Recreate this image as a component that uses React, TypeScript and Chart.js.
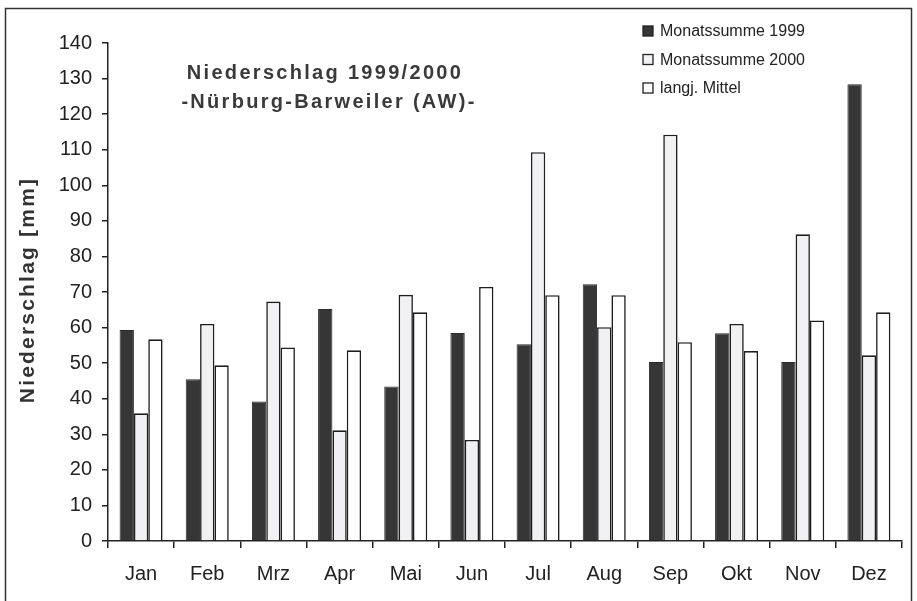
import React, { useEffect, useRef } from "react";
import { Chart, registerables } from "chart.js";

Chart.register(...registerables);

const months = ["Jan", "Feb", "Mrz", "Apr", "Mai", "Jun", "Jul", "Aug", "Sep", "Okt", "Nov", "Dez"];
const sum1999 = [59.3, 45.5, 39.2, 65.2, 43.4, 58.5, 55.3, 72.2, 50.3, 58.4, 50.3, 128.4];
const sum2000 = [35.9, 61, 67.3, 31.1, 69.2, 28.4, 109.3, 60.1, 114.2, 61, 86.2, 52.2];
const meanLong = [56.7, 49.4, 54.4, 53.6, 64.3, 71.4, 69.1, 69.1, 55.9, 53.4, 62, 64.3];
const seriesNames = ["Monatssumme 1999", "Monatssumme 2000", "langj. Mittel"];
const titleLines = ["Niederschlag 1999/2000", "-Nürburg-Barweiler (AW)-"];
const yTitle = "Niederschlag [mm]";

const FONT = "Arial, 'Liberation Sans', Helvetica, sans-serif";
const INK = "#222";

const decorPlugin = {
  id: "decor",
  afterDraw(chart: any) {
    const ctx = chart.ctx as CanvasRenderingContext2D;
    ctx.save();
    // frame
    ctx.strokeStyle = "#333";
    ctx.lineWidth = 1.5;
    ctx.strokeRect(5.5, 8.5, 906, 600);

    // title
    ctx.fillStyle = "#3a3a3a";
    ctx.font = `bold 20px ${FONT}`;
    (ctx as any).letterSpacing = "2.3px";
    ctx.textAlign = "center";
    ctx.textBaseline = "middle";
    ctx.fillText(titleLines[0], 325, 73);
    ctx.fillText(titleLines[1], 329, 102);

    // y axis title
    ctx.save();
    ctx.translate(28, 290);
    ctx.rotate(-Math.PI / 2);
    ctx.fillStyle = "#333";
    ctx.font = `bold 21px ${FONT}`;
    (ctx as any).letterSpacing = "2.2px";
    ctx.fillText(yTitle, 0, 0);
    ctx.restore();

    // legend
    (ctx as any).letterSpacing = "0px";
    ctx.textAlign = "left";
    ctx.font = `16px ${FONT}`;
    const ds = chart.data.datasets;
    ds.forEach((d: any, i: number) => {
      const y = 31 + i * 28.5;
      ctx.fillStyle = d.backgroundColor;
      ctx.fillRect(643, y - 5, 10, 10);
      ctx.strokeStyle = "#222";
      ctx.lineWidth = 1.3;
      ctx.strokeRect(643, y - 5, 10, 10);
      ctx.fillStyle = INK;
      ctx.fillText(d.label, 660, y + 1);
    });
    ctx.restore();
  },
};

export default function App() {
  const ref = useRef<HTMLCanvasElement | null>(null);
  useEffect(() => {
    document.body.style.margin = "0";
    const canvas = ref.current;
    if (!canvas) return;
    const chart = new Chart(canvas, {
      type: "bar",
      data: {
        labels: months,
        datasets: [
          {
            label: seriesNames[0],
            data: sum1999,
            backgroundColor: "#363636",
            borderColor: "#2a2a2a",
            borderWidth: 1,
          },
          {
            label: seriesNames[1],
            data: sum2000,
            backgroundColor: "#f1f1f3",
            borderColor: "#1e1e1e",
            borderWidth: 1.6,
          },
          {
            label: seriesNames[2],
            data: meanLong,
            backgroundColor: "#ffffff",
            borderColor: "#1e1e1e",
            borderWidth: 1.6,
          },
        ],
      },
      options: {
        animation: false,
        responsive: true,
        maintainAspectRatio: false,
        datasets: { bar: { categoryPercentage: 0.65, barPercentage: 1.0 } },
        layout: { padding: { left: 8, top: 43, right: 15, bottom: 0 } },
        plugins: {
          legend: { display: false },
          tooltip: { enabled: false },
          title: { display: false },
        },
        scales: {
          x: {
            grid: {
              display: true,
              drawOnChartArea: false,
              drawTicks: true,
              tickLength: 7,
              color: INK,
              lineWidth: 1.5,
              offset: true,
            },
            border: { display: true, color: INK, width: 1.5 },
            ticks: { font: { size: 20, family: FONT }, color: INK, padding: 14, maxRotation: 0 },
            afterFit: (s: any) => {
              s.height = 60;
            },
          },
          y: {
            min: 0,
            max: 140,
            ticks: { stepSize: 10, font: { size: 20, family: FONT }, color: INK, padding: 10 },
            grid: {
              display: true,
              drawOnChartArea: false,
              drawTicks: true,
              tickLength: 6,
              color: INK,
              lineWidth: 1.5,
            },
            border: { display: true, color: INK, width: 1.5 },
            afterFit: (s: any) => {
              s.width = 100;
            },
          },
        },
      },
      plugins: [decorPlugin],
    } as any);
    return () => chart.destroy();
  }, []);
  return (
    <div style={{ position: "relative", width: 917, height: 601, background: "#fff" }}>
      <canvas ref={ref} />
    </div>
  );
}
